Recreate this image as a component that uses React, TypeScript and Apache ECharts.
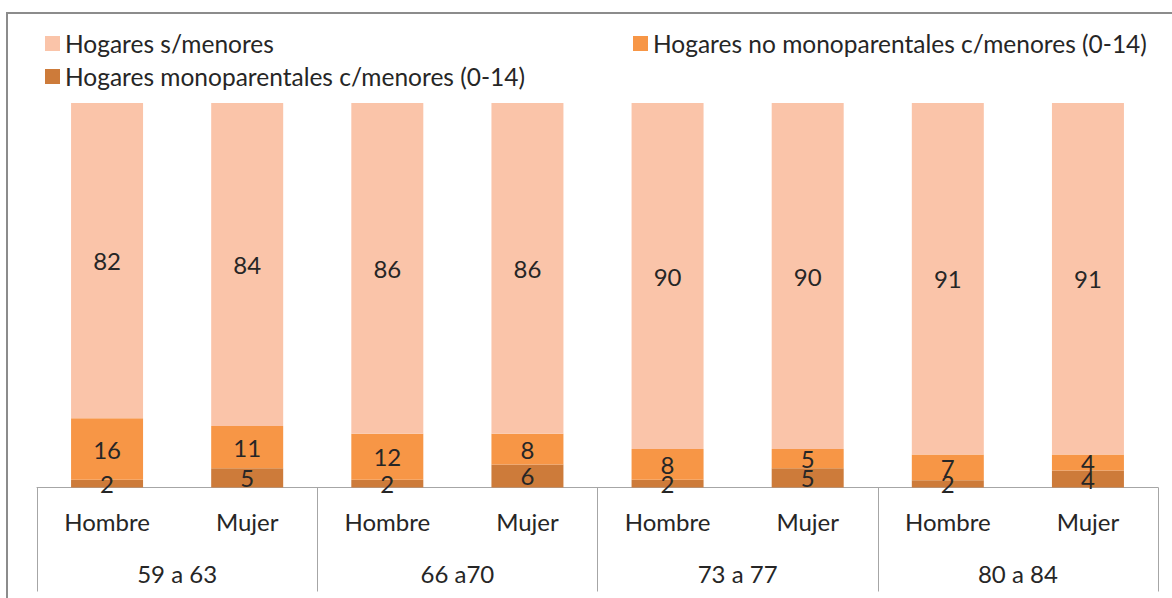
import React, { useEffect, useRef } from "react";
import * as echarts from "echarts";

const sexCategories = ["Hombre", "Mujer", "Hombre", "Mujer", "Hombre", "Mujer", "Hombre", "Mujer"];
const ageGroups = ["59 a 63", "66 a70", "73 a 77", "80 a 84"];
const monoparentales = [2, 5, 2, 6, 2, 5, 1.9, 4.4];
const noMonoparentales = [16, 11, 12, 8, 8, 5, 6.7, 4.2];
const sinMenores = [82, 84, 86, 86, 90, 90, 91.4, 91.4];

const NAME_S = "Hogares s/menores";
const NAME_NO = "Hogares no monoparentales c/menores (0-14)";
const NAME_MONO = "Hogares monoparentales c/menores (0-14)";

const FONT = "Lato, 'Open Sans', sans-serif";
const TEXT = "#262626";
const FS = 24;

export default function App() {
  const ref = useRef<HTMLDivElement>(null);
  useEffect(() => {
    if (!ref.current) return;
    const chart = echarts.init(ref.current, undefined, { renderer: "svg" });
    const label = {
      show: true,
      position: "inside",
      color: TEXT,
      fontFamily: FONT,
      fontSize: FS,
      formatter: (p: any) => String(Math.round(p.value)),
    };
    const legendBase = {
      orient: "horizontal",
      itemWidth: 15,
      itemHeight: 15,
      itemGap: 6,
      icon: "rect",
      textStyle: { color: TEXT, fontFamily: FONT, fontSize: 24.5 },
    };
    chart.setOption({
      animation: false,
      textStyle: { fontFamily: FONT },
      graphic: [
        {
          type: "rect",
          shape: { x: 7, y: 13, width: 1300, height: 800 },
          style: { fill: "none", stroke: "#8c8c8c", lineWidth: 2 },
          silent: true,
        },
      ],
      legend: [
        { ...legendBase, left: 40, top: 26, data: [NAME_S] },
        { ...legendBase, left: 628, top: 26, data: [NAME_NO] },
        { ...legendBase, left: 40, top: 59, data: [NAME_MONO] },
      ],
      grid: { left: 37, right: 14, top: 103, bottom: 110.5 },
      xAxis: [
        {
          type: "category",
          data: sexCategories,
          axisLine: { show: true, lineStyle: { color: "#a6a6a6", width: 1 } },
          axisTick: { show: false },
          axisLabel: { color: TEXT, fontFamily: FONT, fontSize: FS, margin: 22, interval: 0 },
        },
        {
          type: "category",
          data: ageGroups,
          position: "bottom",
          axisLine: { show: false },
          axisTick: { show: true, length: 104, lineStyle: { color: "#a6a6a6", width: 1 } },
          axisLabel: { color: TEXT, fontFamily: FONT, fontSize: FS, margin: 74, interval: 0 },
        },
      ],
      yAxis: {
        type: "value",
        min: 0,
        max: 100,
        show: false,
        splitLine: { show: false },
      },
      series: [
        {
          name: NAME_MONO,
          type: "bar",
          stack: "total",
          data: monoparentales,
          barWidth: 72,
          itemStyle: { color: "#cd7b3a" },
          label,
        },
        {
          name: NAME_NO,
          type: "bar",
          stack: "total",
          data: noMonoparentales,
          barWidth: 72,
          itemStyle: { color: "#f79646" },
          label,
        },
        {
          name: NAME_S,
          type: "bar",
          stack: "total",
          data: sinMenores,
          barWidth: 72,
          itemStyle: { color: "#fac4a9" },
          label,
        },
      ],
    });
    return () => chart.dispose();
  }, []);
  return (
    <div
      ref={ref}
      style={{ position: "fixed", left: 0, top: 0, width: 1172, height: 598, background: "#fff" }}
    />
  );
}
